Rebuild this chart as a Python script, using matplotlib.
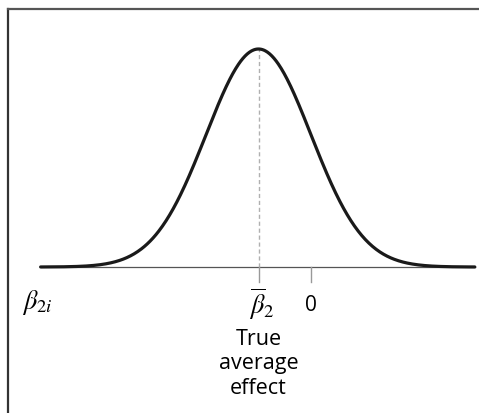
import numpy as np
import matplotlib
matplotlib.use("Agg")
import matplotlib.pyplot as plt

# Distribution of individual effects beta_2i
mean_effect = -1.0
sd_effect = 1.0
x_start, x_end = -5.15, 3.12
tick_positions = [mean_effect, 0.0]
tick_labels = [r"$\overline{\beta}_2$", "0"]
axis_label = r"$\beta_{2i}$"
mean_caption = "True\naverage\neffect"

plt.rcParams["mathtext.fontset"] = "stix"

fig = plt.figure(figsize=(4.79, 4.14), dpi=100)
ax = fig.add_axes([0, 0, 1, 1])
px_per_unit = 52.5
ax.set_xlim(-311 / px_per_unit, (479 - 311) / px_per_unit)
peak = 1 / (sd_effect * np.sqrt(2 * np.pi))
ax.set_ylim(-(146 / 218) * peak, (268 / 218) * peak)
ax.axis("off")

x = np.linspace(x_start, x_end, 600)
y = np.exp(-0.5 * ((x - mean_effect) / sd_effect) ** 2) / (sd_effect * np.sqrt(2 * np.pi))

# baseline axis
ax.plot([x_start, x_end], [0, 0], color="#555555", lw=0.9, zorder=1)
# density curve
ax.plot(x, y, color="#1a1a1a", lw=2.3, solid_capstyle="round", zorder=3)
# dashed guide at the mean
ax.plot([mean_effect, mean_effect], [0, peak], color="#b0b0b0", lw=1.0,
        ls=(0, (3, 2)), zorder=2)

tick_len = 0.028
for t in tick_positions:
    ax.plot([t, t], [0, -tick_len], color="#999999", lw=1.0, zorder=2)

label_y = -0.064
ax.text(mean_effect + 0.07, label_y - 0.002, tick_labels[0], ha="center", va="center",
        fontsize=19)
ax.text(tick_positions[1], label_y - 0.004, tick_labels[1], ha="center", va="center",
        fontsize=15, family="Open Sans")
ax.text(-5.5, label_y, axis_label, ha="left", va="center", fontsize=19)
ax.text(mean_effect, -0.112, mean_caption, ha="center", va="top",
        fontsize=15.5, family="Open Sans", linespacing=1.2)

# frame on top and left edge
fig.add_artist(plt.Line2D([8 / 479, 8 / 479], [0, 1 - 10 / 414],
                          transform=fig.transFigure, color="#333333", lw=1.6))
fig.add_artist(plt.Line2D([8 / 479, 1], [1 - 10 / 414, 1 - 10 / 414],
                          transform=fig.transFigure, color="#555555", lw=1.6))

fig.savefig("out.png", dpi=100)
